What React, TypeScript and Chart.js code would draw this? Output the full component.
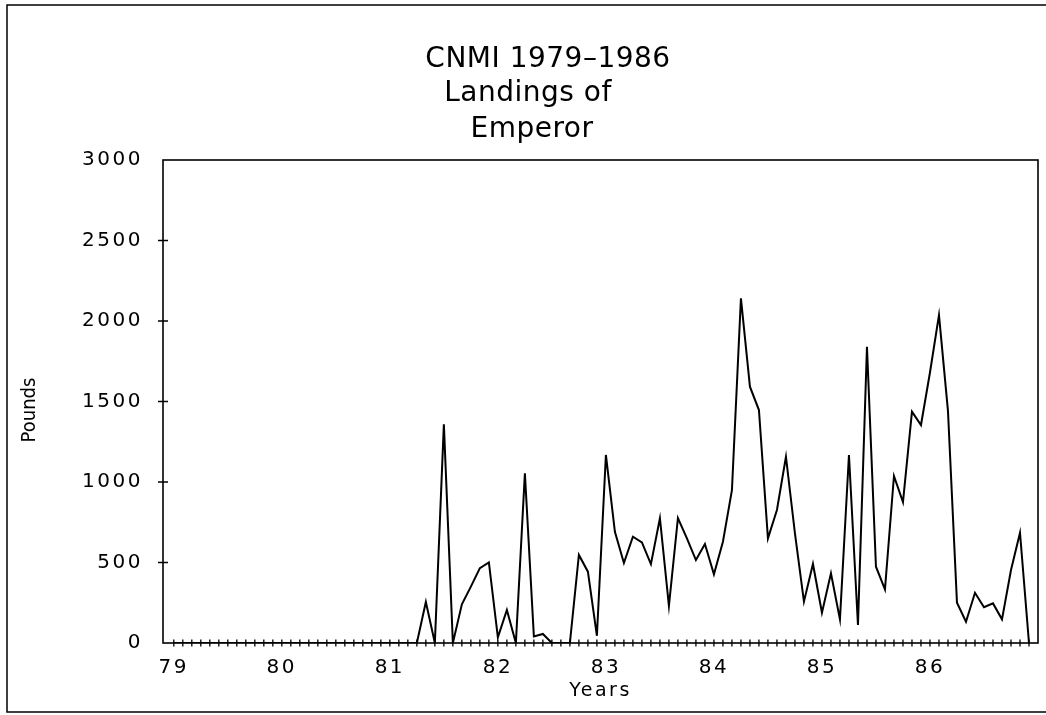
import React, { useEffect, useRef } from 'react';
import { Chart, registerables } from 'chart.js';

Chart.register(...registerables);

const titleLines = ['CNMI 1979–1986', 'Landings of', 'Emperor'];
const xTitle = 'Years';
const yTitle = 'Pounds';
const yearLabels = [79, 80, 81, 82, 83, 84, 85, 86];
const yTickValues = [0, 500, 1000, 1500, 2000, 2500, 3000];

// Monthly landings (pounds), Jan..Dec of each year
const y1979 = [0, 0, 0, 0, 0, 0, 0, 0, 0, 0, 0, 0];
const y1980 = [0, 0, 0, 0, 0, 0, 0, 0, 0, 0, 0, 0];
const y1981 = [0, 0, 0, 0, 255, 0, 1358, 0, 240, 350, 465, 500];
const y1982 = [35, 205, 0, 1054, 40, 56, 0, 0, 0, 547, 443, 45];
const y1983 = [1168, 691, 497, 660, 625, 490, 775, 230, 776, 650, 515, 615];
const y1984 = [427, 629, 950, 2141, 1592, 1447, 650, 826, 1157, 681, 257, 491];
const y1985 = [188, 433, 147, 1168, 112, 1840, 474, 333, 1037, 875, 1437, 1354];
const y1986 = [1680, 2037, 1440, 250, 132, 312, 222, 246, 147, 453, 685, 0];

const years = [1979, 1980, 1981, 1982, 1983, 1984, 1985, 1986];
const yearSeries = [y1979, y1980, y1981, y1982, y1983, y1984, y1985, y1986];

const FONT = '"DejaVu Sans", "Liberation Sans", sans-serif';
const NARROW = '"Liberation Sans Narrow", "DejaVu Sans Condensed", sans-serif';

export default function App() {
  const canvasRef = useRef<HTMLCanvasElement | null>(null);

  useEffect(() => {
    const canvas = canvasRef.current;
    if (!canvas) return;

    const points: { x: number; y: number }[] = [];
    yearSeries.forEach((arr, yi) => {
      arr.forEach((v, m) => {
        points.push({ x: (years[yi] - 1900) + m / 12, y: v });
      });
    });

    // title line placement: [centerX, baselineY]
    const titleLayout = [
      [548, 67],
      [528, 101],
      [532, 137],
    ];

    const decor = {
      id: 'decor',
      beforeDraw(chart: any) {
        const ctx = chart.ctx;
        ctx.save();
        ctx.fillStyle = '#fff';
        ctx.fillRect(0, 0, chart.width, chart.height);
        ctx.strokeStyle = '#000';
        ctx.lineWidth = 1.5;
        ctx.beginPath();
        ctx.moveTo(1046, 5);
        ctx.lineTo(7, 5);
        ctx.lineTo(7, 712);
        ctx.lineTo(1046, 712);
        ctx.stroke();
        ctx.restore();
        (ctx as any).letterSpacing = '2.5px';
      },
      afterDraw(chart: any) {
        const ctx = chart.ctx;
        (ctx as any).letterSpacing = '0px';
        const a = chart.chartArea;
        const xs = chart.scales.x;
        const ys = chart.scales.y;
        ctx.save();
        ctx.strokeStyle = '#000';
        ctx.lineWidth = 1.6;
        ctx.strokeRect(a.left, a.top, a.right - a.left, a.bottom - a.top);
        ctx.lineWidth = 1.3;
        ctx.beginPath();
        years.forEach((yr) => {
          for (let m = 0; m < 12; m++) {
            const px = xs.getPixelForValue(yr - 1900 + m / 12);
            ctx.moveTo(px, a.bottom - 3.5);
            ctx.lineTo(px, a.bottom + 3.5);
          }
        });
        yTickValues.forEach((v) => {
          if (v === 0 || v === 3000) return;
          const py = ys.getPixelForValue(v);
          ctx.moveTo(a.left - 5, py);
          ctx.lineTo(a.left + 5, py);
        });
        ctx.stroke();

        // title lines
        ctx.fillStyle = '#000';
        ctx.font = '28px ' + FONT;
        ctx.textBaseline = 'alphabetic';
        ctx.textAlign = 'center';
        (ctx as any).letterSpacing = '0.5px';
        titleLines.forEach((line, i) => {
          const [cx, by] = titleLayout[i];
          ctx.fillText(line, cx, by);
        });
        (ctx as any).letterSpacing = '0px';

        // y axis title
        ctx.save();
        ctx.translate(30, 410);
        ctx.rotate(-Math.PI / 2);
        ctx.font = '20px ' + NARROW;
        ctx.textAlign = 'center';
        ctx.textBaseline = 'middle';
        ctx.fillText(yTitle, 0, 0);
        ctx.restore();
        ctx.restore();
      },
    };

    const chart = new Chart(canvas, {
      type: 'line',
      data: {
        datasets: [
          {
            data: points,
            borderColor: '#000',
            borderWidth: 2,
            pointRadius: 0,
            tension: 0,
            fill: false,
          },
        ],
      },
      options: {
        responsive: false,
        animation: false,
        layout: { padding: { top: 160, right: 8, bottom: 0, left: 0 } },
        plugins: {
          legend: { display: false },
          tooltip: { enabled: false },
          title: { display: false },
        },
        scales: {
          x: {
            type: 'linear',
            min: 78.9,
            max: 87,
            afterBuildTicks: (s: any) => {
              s.ticks = yearLabels.map((v) => ({ value: v }));
            },
            afterFit: (s: any) => {
              s.height = 72;
            },
            ticks: {
              autoSkip: false,
              maxRotation: 0,
              padding: 13,
              color: '#000',
              font: { family: FONT, size: 20 },
              callback: (v: any) => String(v),
            },
            grid: { display: false, drawTicks: false },
            border: { display: false },
            title: {
              display: true,
              text: xTitle,
              color: '#000',
              font: { family: FONT, size: 19 },
              padding: { top: 0, bottom: 13 },
            },
          },
          y: {
            type: 'linear',
            min: 0,
            max: 3000,
            afterBuildTicks: (s: any) => {
              s.ticks = yTickValues.map((v) => ({ value: v }));
            },
            afterFit: (s: any) => {
              s.width = 163;
            },
            ticks: {
              padding: 20,
              color: '#000',
              font: { family: FONT, size: 20 },
              callback: (v: any) => String(v),
            },
            grid: { display: false, drawTicks: false },
            border: { display: false },
            title: { display: false },
          },
        },
      },
      plugins: [decor],
    });

    return () => chart.destroy();
  }, []);

  return (
    <div style={{ position: 'fixed', left: 0, top: 0, width: 1046, height: 715, background: '#fff' }}>
      <canvas ref={canvasRef} width={1046} height={715} style={{ display: 'block' }} />
    </div>
  );
}
